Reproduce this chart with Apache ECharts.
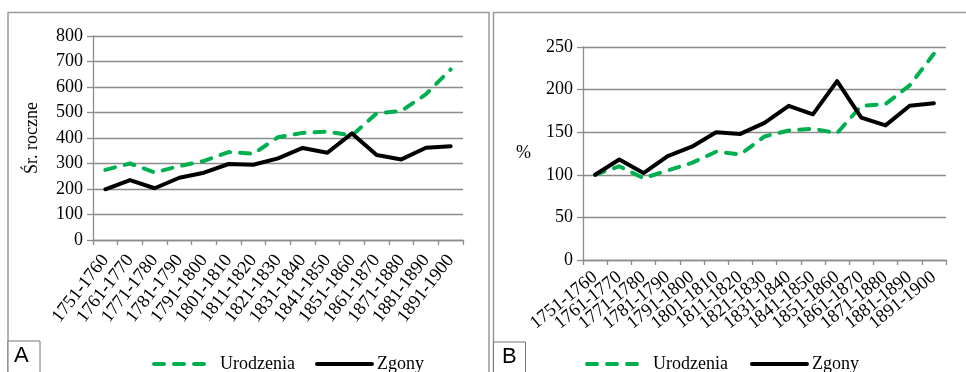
<!DOCTYPE html>
<html><head><meta charset="utf-8">
<script src="https://cdn.jsdelivr.net/npm/echarts@6/dist/echarts.min.js"></script>
<style>html,body{margin:0;padding:0;background:#fff}#c{width:966px;height:372px}</style>
</head><body><div id="c"></div>
<script>
var categories = ['1751-1760','1761-1770','1771-1780','1781-1790','1791-1800','1801-1810','1811-1820','1821-1830','1831-1840','1841-1850','1851-1860','1861-1870','1871-1880','1881-1890','1891-1900'];
var birthsA = [275, 300, 265, 290, 310, 345, 338, 403, 420, 425, 410, 497, 506, 572, 669];
var deathsA = [199, 235, 203, 244, 264, 298, 295, 320, 361, 342, 418, 333, 316, 362, 368];
var birthsB = [100, 110, 96, 105, 114, 127, 124, 145, 152, 154, 149, 181, 183, 205, 242];
var deathsB = [100, 118, 102, 122, 133, 150, 148, 161, 181, 171, 210, 167, 158, 181, 184];
var yTicksA = {min: 0, max: 800, interval: 100};
var yTicksB = {min: 0, max: 250, interval: 50};

var serif = 'Liberation Serif';
var green = '#00B050';
var gridColor = '#8c8c8c';
var chart = echarts.init(document.getElementById('c'));

function xAxis(gi, rot, margin) {
  return {
    type: 'category', gridIndex: gi, data: categories, boundaryGap: true,
    axisLine: {lineStyle: {color: gridColor, width: 1.3}},
    axisTick: {show: true, length: 5, lineStyle: {color: gridColor, width: 1.3}},
    axisLabel: {rotate: rot, interval: 0, color: '#000', fontFamily: serif, fontSize: 18.5, margin: margin}
  };
}
function yAxis(gi, t, name, nameRot, nameGap) {
  return {
    type: 'value', gridIndex: gi, min: t.min, max: t.max, interval: t.interval,
    name: name, nameLocation: 'middle', nameRotate: nameRot, nameGap: nameGap,
    nameTextStyle: {color: '#000', fontFamily: serif, fontSize: 18},
    axisLine: {show: true, lineStyle: {color: gridColor, width: 1.3}},
    axisTick: {show: true, length: 6, lineStyle: {color: gridColor, width: 1.3}},
    axisLabel: {color: '#000', fontFamily: serif, fontSize: 18, margin: 10},
    splitLine: {lineStyle: {color: gridColor, width: 1.3}}
  };
}
function births(i, data) {
  return {name: 'Urodzenia', type: 'line', xAxisIndex: i, yAxisIndex: i, data: data,
    symbol: 'none', lineStyle: {color: green, width: 4, type: [10, 10], cap: 'round', join: 'round'},
    itemStyle: {color: green}};
}
function deaths(i, data) {
  return {name: 'Zgony', type: 'line', xAxisIndex: i, yAxisIndex: i, data: data,
    symbol: 'none', lineStyle: {color: '#000', width: 4, cap: 'round', join: 'round'},
    itemStyle: {color: '#000'}};
}
function legend(left, gap) {
  return {left: left, top: 350, itemWidth: 55, itemHeight: 14, itemGap: gap,
    itemStyle: {opacity: 0},
    lineStyle: {width: 4, cap: 'round'},
    textStyle: {color: '#000', fontFamily: serif, fontSize: 18},
    data: [
      {name: 'Urodzenia', textStyle: {padding: [0, 0, 0, 6]}},
      {name: 'Zgony', textStyle: {padding: [0, 0, 0, 0]}}
    ]};
}
var border = {stroke: '#999', lineWidth: 1.5, fill: 'none'};
chart.setOption({
  animation: false,
  grid: [
    {left: 93, right: 503, top: 36, bottom: 132},
    {left: 583, right: 20, top: 47, bottom: 112}
  ],
  xAxis: [xAxis(0, 52, 17), xAxis(1, 39, 15)],
  yAxis: [yAxis(0, yTicksA, 'Śr. roczne', 90, 52), yAxis(1, yTicksB, '%', 0, 52)],
  legend: [legend(147, 20), legend(580, 22)],
  series: [births(0, birthsA), deaths(0, deathsA), births(1, birthsB), deaths(1, deathsB)],
  graphic: [
    {type: 'polyline', shape: {points: [[8, 380], [8, 12.5], [489, 12.5], [489, 380]]}, style: border, silent: true},
    {type: 'polyline', shape: {points: [[493.5, 380], [493.5, 12.5], [970, 12.5]]}, style: border, silent: true},
    {type: 'rect', shape: {x: 8, y: 341, width: 32, height: 40}, style: {stroke: '#777', lineWidth: 1, fill: '#fff'}},
    {type: 'text', left: 14, top: 345, style: {text: 'A', font: '22px "Liberation Sans"', fill: '#000'}},
    {type: 'rect', shape: {x: 493.5, y: 342, width: 32, height: 40}, style: {stroke: '#777', lineWidth: 1, fill: '#fff'}},
    {type: 'text', left: 502, top: 346, style: {text: 'B', font: '22px "Liberation Sans"', fill: '#000'}}
  ]
});
</script></body></html>
